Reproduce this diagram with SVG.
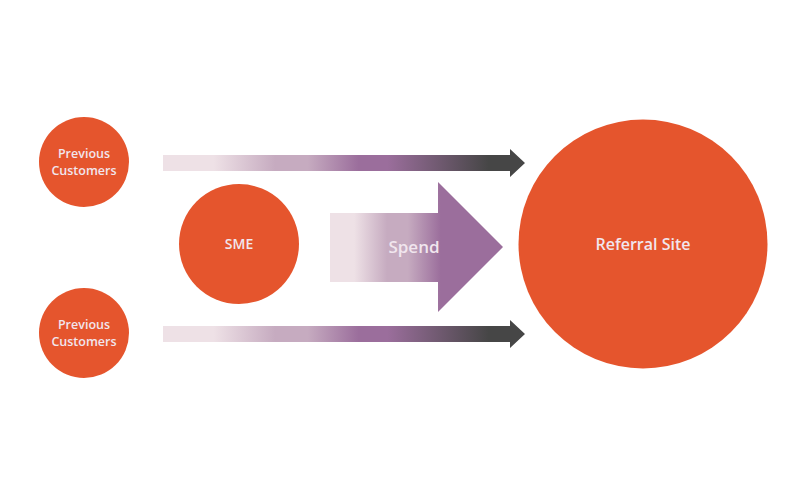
<svg xmlns="http://www.w3.org/2000/svg" width="800" height="487" viewBox="0 0 800 487">
<defs>
<linearGradient id="gSmall" x1="0" y1="0" x2="1" y2="0">
<stop offset="0" stop-color="#eee1e6"/>
<stop offset="0.14" stop-color="#eee1e6"/>
<stop offset="0.31" stop-color="#c6abc0"/>
<stop offset="0.40" stop-color="#c6abc0"/>
<stop offset="0.54" stop-color="#9b6e9c"/>
<stop offset="0.62" stop-color="#9b6e9c"/>
<stop offset="0.90" stop-color="#464646"/>
<stop offset="1" stop-color="#464646"/>
</linearGradient>
<linearGradient id="gBig" gradientUnits="userSpaceOnUse" x1="330" y1="0" x2="503" y2="0">
<stop offset="0" stop-color="#eee1e6"/>
<stop offset="0.14" stop-color="#eee1e6"/>
<stop offset="0.33" stop-color="#c6abc0"/>
<stop offset="0.45" stop-color="#c6abc0"/>
<stop offset="0.64" stop-color="#9b6e9c"/>
<stop offset="1" stop-color="#9b6e9c"/>
</linearGradient>
<style>
.node{fill:#e5552d}
.lbl{fill:#f1e6ee;font-family:"Open Sans","Liberation Sans",sans-serif;text-anchor:middle;font-weight:600}
</style>
</defs>
<rect width="800" height="487" fill="#ffffff"/>
<g id="connectors">
<polygon fill="url(#gSmall)" points="163,155 510,155 510,149 525,163 510,177 510,171 163,171"/>
<polygon fill="url(#gSmall)" points="163,326 510,326 510,320 525,334 510,348 510,342 163,342"/>
<g id="spend">
<polygon fill="url(#gBig)" points="330,213 438,213 438,182 503,247 438,312 438,282 330,282"/>
<text class="lbl" x="414" y="253" font-size="17">Spend</text>
</g>
</g>
<g id="prev1">
<circle class="node" cx="84" cy="162" r="45"/>
<text class="lbl" x="84" y="158" font-size="12.5">Previous</text>
<text class="lbl" x="84" y="175" font-size="12.5">Customers</text>
</g>
<g id="prev2">
<circle class="node" cx="84" cy="333" r="45"/>
<text class="lbl" x="84" y="329" font-size="12.5">Previous</text>
<text class="lbl" x="84" y="346" font-size="12.5">Customers</text>
</g>
<g id="sme">
<circle class="node" cx="239" cy="244" r="60"/>
<text class="lbl" x="239" y="249" font-size="14">SME</text>
</g>
<g id="referral">
<circle class="node" cx="643" cy="244" r="124.5"/>
<text class="lbl" x="643" y="250" font-size="16">Referral Site</text>
</g>
</svg>
